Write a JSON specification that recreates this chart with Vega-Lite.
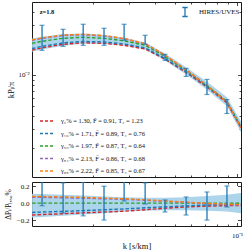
{
  "$schema": "https://vega.github.io/schema/vega-lite/v6.json",
  "background": "white",
  "padding": {"left": 3, "top": 1, "right": 4, "bottom": 2},
  "spacing": 3,
  "config": {
    "font": "Liberation Serif",
    "view": {"stroke": "#1a1a1a", "strokeWidth": 1},
    "axis": {"domain": false, "grid": false, "labelFont": "Liberation Serif", "titleFont": "Liberation Serif", "labelFontSize": 7, "titleFontSize": 8.5, "titleFontWeight": "normal", "labelColor": "#111", "titleColor": "#111", "tickColor": "#1a1a1a", "tickWidth": 0.8, "labelFlush": false},
    "legend": {"labelFont": "Liberation Serif", "labelColor": "#111", "padding": 0}
  },
  "datasets": {
    "curves": [
      {"k": 0.0101, "m": "2", "P": 0.01728, "r": -0.14}, {"k": 0.0101, "m": "16", "P": 0.01788, "r": -0.11}, {"k": 0.0101, "m": "50", "P": 0.02009, "r": 0}, {"k": 0.0101, "m": "84", "P": 0.0215, "r": 0.07}, {"k": 0.0101, "m": "98", "P": 0.0217, "r": 0.08},
      {"k": 0.0113, "m": "2", "P": 0.01817, "r": -0.135}, {"k": 0.0113, "m": "16", "P": 0.0188, "r": -0.105}, {"k": 0.0113, "m": "50", "P": 0.021, "r": 0}, {"k": 0.0113, "m": "84", "P": 0.02243, "r": 0.068}, {"k": 0.0113, "m": "98", "P": 0.02264, "r": 0.078},
      {"k": 0.0143, "m": "2", "P": 0.01964, "r": -0.125}, {"k": 0.0143, "m": "16", "P": 0.02026, "r": -0.097}, {"k": 0.0143, "m": "50", "P": 0.02244, "r": 0}, {"k": 0.0143, "m": "84", "P": 0.02388, "r": 0.064}, {"k": 0.0143, "m": "98", "P": 0.0241, "r": 0.074},
      {"k": 0.0179, "m": "2", "P": 0.0203, "r": -0.115}, {"k": 0.0179, "m": "16", "P": 0.02092, "r": -0.088}, {"k": 0.0179, "m": "50", "P": 0.02294, "r": 0}, {"k": 0.0179, "m": "84", "P": 0.02427, "r": 0.058}, {"k": 0.0179, "m": "98", "P": 0.0245, "r": 0.068},
      {"k": 0.0226, "m": "2", "P": 0.02008, "r": -0.105}, {"k": 0.0226, "m": "16", "P": 0.02069, "r": -0.078}, {"k": 0.0226, "m": "50", "P": 0.02244, "r": 0}, {"k": 0.0226, "m": "84", "P": 0.02361, "r": 0.052}, {"k": 0.0226, "m": "98", "P": 0.02379, "r": 0.06},
      {"k": 0.0283, "m": "2", "P": 0.01921, "r": -0.095}, {"k": 0.0283, "m": "16", "P": 0.01979, "r": -0.068}, {"k": 0.0283, "m": "50", "P": 0.02123, "r": 0}, {"k": 0.0283, "m": "84", "P": 0.02219, "r": 0.045}, {"k": 0.0283, "m": "98", "P": 0.02233, "r": 0.052},
      {"k": 0.0358, "m": "2", "P": 0.01771, "r": -0.078}, {"k": 0.0358, "m": "16", "P": 0.01815, "r": -0.055}, {"k": 0.0358, "m": "50", "P": 0.01921, "r": 0}, {"k": 0.0358, "m": "84", "P": 0.01986, "r": 0.034}, {"k": 0.0358, "m": "98", "P": 0.01998, "r": 0.04},
      {"k": 0.0447, "m": "2", "P": 0.01416, "r": -0.06}, {"k": 0.0447, "m": "16", "P": 0.01441, "r": -0.043}, {"k": 0.0447, "m": "50", "P": 0.01506, "r": 0}, {"k": 0.0447, "m": "84", "P": 0.01539, "r": 0.022}, {"k": 0.0447, "m": "98", "P": 0.01545, "r": 0.026},
      {"k": 0.0566, "m": "2", "P": 0.01055, "r": -0.045}, {"k": 0.0566, "m": "16", "P": 0.0107, "r": -0.032}, {"k": 0.0566, "m": "50", "P": 0.01105, "r": 0}, {"k": 0.0566, "m": "84", "P": 0.01116, "r": 0.01}, {"k": 0.0566, "m": "98", "P": 0.01118, "r": 0.012},
      {"k": 0.0715, "m": "2", "P": 0.00765, "r": -0.035}, {"k": 0.0715, "m": "16", "P": 0.00776, "r": -0.022}, {"k": 0.0715, "m": "50", "P": 0.00793, "r": 0}, {"k": 0.0715, "m": "84", "P": 0.00789, "r": -0.005}, {"k": 0.0715, "m": "98", "P": 0.00791, "r": -0.002},
      {"k": 0.0894, "m": "2", "P": 0.00539, "r": -0.03}, {"k": 0.0894, "m": "16", "P": 0.00548, "r": -0.015}, {"k": 0.0894, "m": "50", "P": 0.00556, "r": 0}, {"k": 0.0894, "m": "84", "P": 0.00546, "r": -0.018}, {"k": 0.0894, "m": "98", "P": 0.00549, "r": -0.012},
      {"k": 0.1046, "m": "2", "P": 0.00311, "r": -0.028}, {"k": 0.1046, "m": "16", "P": 0.00316, "r": -0.012}, {"k": 0.1046, "m": "50", "P": 0.0032, "r": 0}, {"k": 0.1046, "m": "84", "P": 0.00312, "r": -0.025}, {"k": 0.1046, "m": "98", "P": 0.00314, "r": -0.018}
    ],
    "band": [
      {"k": 0.0101, "lo": 0.01667, "hi": 0.0223, "rlo": -0.17, "rhi": 0.11},
      {"k": 0.0113, "lo": 0.01754, "hi": 0.02327, "rlo": -0.165, "rhi": 0.108},
      {"k": 0.0143, "lo": 0.01907, "hi": 0.02468, "rlo": -0.15, "rhi": 0.1},
      {"k": 0.0179, "lo": 0.01984, "hi": 0.025, "rlo": -0.135, "rhi": 0.09},
      {"k": 0.0226, "lo": 0.01975, "hi": 0.02424, "rlo": -0.12, "rhi": 0.08},
      {"k": 0.0283, "lo": 0.01911, "hi": 0.02272, "rlo": -0.1, "rhi": 0.07},
      {"k": 0.0358, "lo": 0.01748, "hi": 0.02046, "rlo": -0.09, "rhi": 0.065},
      {"k": 0.0447, "lo": 0.01378, "hi": 0.01604, "rlo": -0.085, "rhi": 0.065},
      {"k": 0.0566, "lo": 0.01011, "hi": 0.01182, "rlo": -0.085, "rhi": 0.07},
      {"k": 0.0715, "lo": 0.00722, "hi": 0.0086, "rlo": -0.09, "rhi": 0.085},
      {"k": 0.0894, "lo": 0.005, "hi": 0.00612, "rlo": -0.1, "rhi": 0.1},
      {"k": 0.1046, "lo": 0.00282, "hi": 0.00358, "rlo": -0.12, "rhi": 0.12}
    ],
    "obs": [
      {"k": 0.0113, "lo": 0.0172, "hi": 0.0299, "rlo": -0.03, "rhi": 0.27, "src": "HIRES/UVES"},
      {"k": 0.0143, "lo": 0.01879, "hi": 0.02737, "rlo": -0.116, "rhi": 0.24, "src": "HIRES/UVES"},
      {"k": 0.0179, "lo": 0.01921, "hi": 0.03059, "rlo": -0.15, "rhi": 0.25, "src": "HIRES/UVES"},
      {"k": 0.0226, "lo": 0.01921, "hi": 0.028, "rlo": -0.2, "rhi": 0.2, "src": "HIRES/UVES"},
      {"k": 0.0283, "lo": 0.02147, "hi": 0.03059, "rlo": 0.026, "rhi": 0.27, "src": "HIRES/UVES"},
      {"k": 0.0358, "lo": 0.01965, "hi": 0.02398, "rlo": -0.01, "rhi": 0.24, "src": "HIRES/UVES"},
      {"k": 0.0447, "lo": 0.01379, "hi": 0.01574, "rlo": -0.104, "rhi": 0.038, "src": "HIRES/UVES"},
      {"k": 0.0566, "lo": 0.00967, "hi": 0.01155, "rlo": -0.14, "rhi": 0.073, "src": "HIRES/UVES"},
      {"k": 0.0715, "lo": 0.00649, "hi": 0.00905, "rlo": -0.2, "rhi": 0.132, "src": "HIRES/UVES"},
      {"k": 0.0894, "lo": 0.00427, "hi": 0.00581, "rlo": -0.045, "rhi": 0.203, "src": "HIRES/UVES"}
    ]
  },
  "vconcat": [
    {
      "width": 209,
      "height": 175,
      "resolve": {"axis": {"x": "independent", "y": "independent"}},
      "layer": [
        {
          "data": {"name": "band"},
          "mark": {"type": "area", "color": "#a3cfe8", "opacity": 0.9, "clip": true},
          "encoding": {
            "x": {"field": "k", "type": "quantitative", "scale": {"type": "log", "domain": [0.0101, 0.1046], "nice": false}, "axis": {"orient": "bottom", "values": [0.02, 0.03, 0.04, 0.05, 0.06, 0.07, 0.08, 0.09], "labels": false, "tickSize": -2, "title": null}},
            "y": {"field": "lo", "type": "quantitative", "scale": {"type": "log", "domain": [0.00105, 0.05], "nice": false}, "axis": {"orient": "left", "values": [0.002, 0.003, 0.004, 0.005, 0.006, 0.007, 0.008, 0.009, 0.02, 0.03, 0.04], "labels": false, "tickSize": -2, "title": null}},
            "y2": {"field": "hi"}
          }
        },
        {
          "data": {"name": "curves"},
          "mark": {"type": "line", "strokeDash": [3.5, 2], "strokeWidth": 1.4, "clip": true},
          "encoding": {
            "x": {"field": "k", "type": "quantitative", "scale": {"type": "log", "domain": [0.0101, 0.1046], "nice": false}, "axis": {"orient": "bottom", "values": [0.1], "labels": false, "tickSize": -3.5, "title": null}},
            "y": {"field": "P", "type": "quantitative", "scale": {"type": "log", "domain": [0.00105, 0.05], "nice": false}, "axis": {"orient": "left", "values": [0.01], "labels": false, "tickSize": -3.5, "title": null}},
            "color": {
              "field": "m", "type": "nominal",
              "scale": {"domain": ["2", "16", "50", "84", "98"], "range": ["#d62728", "#1f77b4", "#2ca02c", "#9467bd", "#ff7f0e"]},
              "legend": {
                "orient": "none", "legendX": 11.5, "legendY": 115, "title": null,
                "symbolType": "M-2.5,0L2.5,0", "symbolSize": 36, "symbolDash": [3, 2], "symbolStrokeWidth": 1.4,
                "labelFontSize": 6.5, "labelOffset": 9.5, "rowPadding": 4.5,
                "labelExpr": "datum.label == '2' ? 'γ₂% = 1.30, F̄ = 0.91, T₄ = 1.23' : datum.label == '16' ? 'γ₁₆% = 1.71, F̄ = 0.89, T₄ = 0.76' : datum.label == '50' ? 'γ₅₀% = 1.97, F̄ = 0.87, T₄ = 0.64' : datum.label == '84' ? 'γ₈₄% = 2.13, F̄ = 0.86, T₄ = 0.68' : 'γ₉₈% = 2.22, F̄ = 0.85, T₄ = 0.67'"
              }
            }
          }
        },
        {
          "data": {"name": "obs"},
          "mark": {"type": "rule", "strokeWidth": 1.3, "clip": true},
          "encoding": {
            "x": {"field": "k", "type": "quantitative", "scale": {"type": "log", "domain": [0.0101, 0.1046], "nice": false}, "axis": {"orient": "top", "values": [0.02, 0.03, 0.04, 0.05, 0.06, 0.07, 0.08, 0.09], "labels": false, "tickSize": -2, "title": null}},
            "y": {"field": "lo", "type": "quantitative", "scale": {"type": "log", "domain": [0.00105, 0.05], "nice": false}, "axis": {"orient": "right", "values": [0.002, 0.003, 0.004, 0.005, 0.006, 0.007, 0.008, 0.009, 0.02, 0.03, 0.04], "labels": false, "tickSize": -2, "title": null}},
            "y2": {"field": "hi"},
            "stroke": {
              "field": "src", "type": "nominal", "scale": {"range": ["#1f77b4"]},
              "legend": {"orient": "none", "legendX": 147.5, "legendY": 4.5, "title": null, "symbolType": "M0,-1L0,1M-0.6,-1L0.6,-1M-0.6,1L0.6,1", "symbolSize": 81, "symbolStrokeWidth": 1.3, "labelFontSize": 7, "labelOffset": 8.5}
            }
          }
        },
        {
          "data": {"name": "obs"},
          "mark": {"type": "tick", "orient": "horizontal", "color": "#1f77b4", "size": 5, "thickness": 1.2, "clip": true},
          "encoding": {
            "x": {"field": "k", "type": "quantitative", "scale": {"type": "log", "domain": [0.0101, 0.1046], "nice": false}, "axis": {"orient": "top", "values": [0.1], "labels": false, "tickSize": -3.5, "title": null}},
            "y": {"field": "lo", "type": "quantitative", "scale": {"type": "log", "domain": [0.00105, 0.05], "nice": false}, "axis": {"orient": "right", "values": [0.01], "labels": false, "tickSize": -3.5, "title": null}}
          }
        },
        {
          "data": {"name": "obs"},
          "mark": {"type": "tick", "orient": "horizontal", "color": "#1f77b4", "size": 5, "thickness": 1.2, "clip": true},
          "encoding": {
            "x": {"field": "k", "type": "quantitative", "scale": {"type": "log", "domain": [0.0101, 0.1046], "nice": false}, "axis": null},
            "y": {"field": "hi", "type": "quantitative", "scale": {"type": "log", "domain": [0.00105, 0.05], "nice": false}, "axis": {"orient": "left", "values": [0.01], "ticks": false, "labelPadding": 3, "labelExpr": "'10⁻²'", "title": "kPₗ/π", "titlePadding": 2}}
          }
        },
        {
          "data": {"values": [{}]},
          "mark": {"type": "text", "text": "z=1.8", "fontWeight": "bold", "fontSize": 6.5, "align": "left", "baseline": "middle", "font": "Liberation Serif", "color": "#111"},
          "encoding": {
            "x": {"datum": 0.011, "type": "quantitative", "scale": {"type": "log", "domain": [0.0101, 0.1046], "nice": false}, "axis": null},
            "y": {"datum": 0.04, "type": "quantitative", "scale": {"type": "log", "domain": [0.00105, 0.05], "nice": false}, "axis": null}
          }
        }
      ]
    },
    {
      "width": 209,
      "height": 44,
      "resolve": {"axis": {"x": "independent", "y": "independent"}},
      "layer": [
        {
          "data": {"name": "band"},
          "mark": {"type": "area", "color": "#a3cfe8", "opacity": 0.9, "clip": true},
          "encoding": {
            "x": {"field": "k", "type": "quantitative", "scale": {"type": "log", "domain": [0.0101, 0.1046], "nice": false}, "axis": {"orient": "bottom", "values": [0.02, 0.03, 0.04, 0.05, 0.06, 0.07, 0.08, 0.09], "labels": false, "tickSize": -2, "title": null}},
            "y": {"field": "rlo", "type": "quantitative", "scale": {"domain": [-0.27, 0.25], "nice": false, "zero": false}, "axis": {"orient": "left", "values": [-0.2, 0, 0.2], "labels": false, "tickSize": -3.5, "title": null}},
            "y2": {"field": "rhi"}
          }
        },
        {
          "data": {"name": "curves"},
          "mark": {"type": "line", "strokeDash": [3.5, 2], "strokeWidth": 1.4, "clip": true},
          "encoding": {
            "x": {"field": "k", "type": "quantitative", "scale": {"type": "log", "domain": [0.0101, 0.1046], "nice": false}, "axis": {"orient": "bottom", "values": [0.1], "labels": false, "tickSize": -3.5, "title": null}},
            "y": {"field": "r", "type": "quantitative", "scale": {"domain": [-0.27, 0.25], "nice": false, "zero": false}, "axis": {"orient": "right", "values": [-0.2, 0, 0.2], "labels": false, "tickSize": -3.5, "title": null}},
            "color": {"field": "m", "type": "nominal", "scale": {"domain": ["2", "16", "50", "84", "98"], "range": ["#d62728", "#1f77b4", "#2ca02c", "#9467bd", "#ff7f0e"]}, "legend": null}
          }
        },
        {
          "data": {"name": "obs"},
          "mark": {"type": "rule", "strokeWidth": 1.3, "clip": true, "color": "#1f77b4"},
          "encoding": {
            "x": {"field": "k", "type": "quantitative", "scale": {"type": "log", "domain": [0.0101, 0.1046], "nice": false}, "axis": {"orient": "top", "values": [0.02, 0.03, 0.04, 0.05, 0.06, 0.07, 0.08, 0.09], "labels": false, "tickSize": -2, "title": null}},
            "y": {"field": "rlo", "type": "quantitative", "scale": {"domain": [-0.27, 0.25], "nice": false, "zero": false}, "axis": null},
            "y2": {"field": "rhi"}
          }
        },
        {
          "data": {"name": "obs"},
          "mark": {"type": "tick", "orient": "horizontal", "color": "#1f77b4", "size": 5, "thickness": 1.2, "clip": true},
          "encoding": {
            "x": {"field": "k", "type": "quantitative", "scale": {"type": "log", "domain": [0.0101, 0.1046], "nice": false}, "axis": {"orient": "top", "values": [0.1], "labels": false, "tickSize": -3.5, "title": null}},
            "y": {"field": "rlo", "type": "quantitative", "scale": {"domain": [-0.27, 0.25], "nice": false, "zero": false}, "axis": null}
          }
        },
        {
          "data": {"name": "obs"},
          "mark": {"type": "tick", "orient": "horizontal", "color": "#1f77b4", "size": 5, "thickness": 1.2, "clip": true},
          "encoding": {
            "x": {"field": "k", "type": "quantitative", "scale": {"type": "log", "domain": [0.0101, 0.1046], "nice": false}, "axis": {"orient": "bottom", "values": [0.1], "ticks": false, "labelPadding": 5, "labelExpr": "'10⁻¹'", "title": "k [s/km]", "titlePadding": 3}},
            "y": {"field": "rhi", "type": "quantitative", "scale": {"domain": [-0.27, 0.25], "nice": false, "zero": false}, "axis": {"orient": "left", "values": [-0.2, 0, 0.2], "ticks": false, "labelPadding": 3, "format": ".1f", "title": "ΔPₗ/Pₗ,₅₀%", "titleFontSize": 7.5, "titlePadding": 4}}
          }
        }
      ]
    }
  ]
}
